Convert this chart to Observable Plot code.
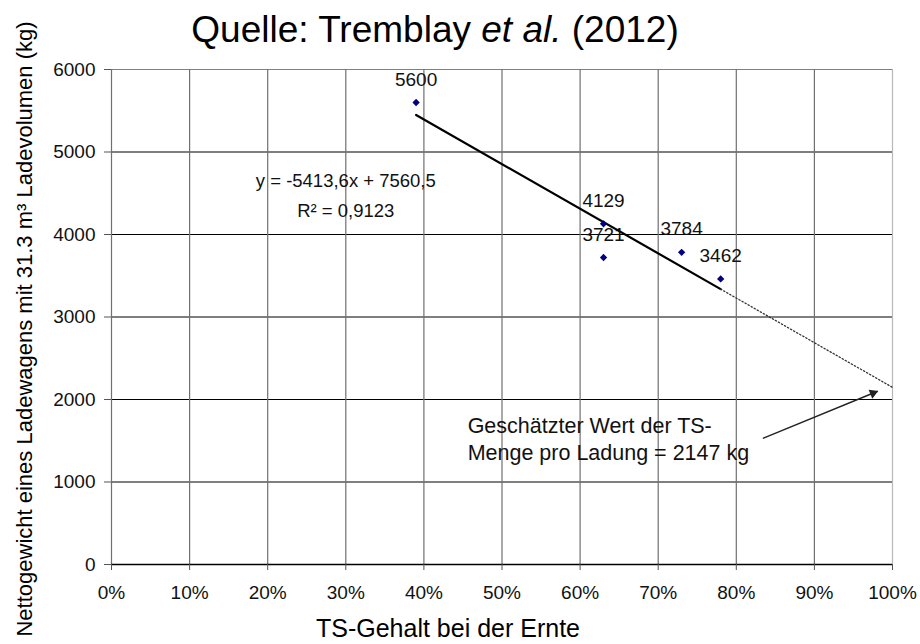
<!DOCTYPE html>
<html>
<head>
<meta charset="utf-8">
<script src="https://cdn.jsdelivr.net/npm/d3@7"></script>
<script src="https://cdn.jsdelivr.net/npm/@observablehq/plot@0.6"></script>
<style>
  html, body { margin: 0; padding: 0; background: #fff; }
  #wrap { position: relative; width: 920px; height: 644px; font-family: "Liberation Sans", Arial, sans-serif; }
  #title { position: absolute; left: 0; width: 870px; top: 11px; text-align: center; font-size: 37px; line-height: 37px; color: #000; }
  #chart { position: absolute; left: 0; top: 0; }
</style>
</head>
<body>
<div id="wrap">
  <div id="chart"></div>
  <div id="title">Quelle: Tremblay <i>et al.</i> (2012)</div>
</div>
<script>
// ---- data ----
const tsContent = [0.39, 0.63, 0.63, 0.73, 0.78];
const netWeight = [5600, 4129, 3721, 3784, 3462];
const xTicks = [0, 0.1, 0.2, 0.3, 0.4, 0.5, 0.6, 0.7, 0.8, 0.9, 1.0];
const yTicks = [0, 1000, 2000, 3000, 4000, 5000, 6000];
const trendSlope = -5413.6;
const trendIntercept = 7560.5;
const trendRange = [0.39, 0.78];
const trendExtension = [0.78, 1.0];
const equationText = "y = -5413,6x + 7560,5\nR² = 0,9123";
const equationAt = [0.30, 4213];
const annotationText = "Geschätzter Wert der TS-\nMenge pro Ladung = 2147 kg";
const annotationAt = [0.456, 1264];
const arrowFrom = [0.834, 1530];
const arrowTo = [0.981, 2100];
const xLabel = "TS-Gehalt bei der Ernte";
const yLabel = "Nettogewicht eines Ladewagens mit 31.3 m³ Ladevolumen (kg)";

// ---- build ----
const points = tsContent.map((x, i) => ({x, y: netWeight[i]}));
const trend = x => trendSlope * x + trendIntercept;

const W = 920, H = 644, ML = 111, MR = 28, MT = 69, MB = 80;
const font = "'Liberation Sans', Arial, sans-serif";

// arrow head orientation in pixel space
const pxX = (W - ML - MR), pxY = (H - MT - MB) / 6000;
const ddx = (arrowTo[0] - arrowFrom[0]) * pxX;
const ddy = -(arrowTo[1] - arrowFrom[1]) * pxY;
const ang = Math.atan2(ddy, ddx) * 180 / Math.PI;
const headRot = ang + 90;
const back = 5;
const headDx = -back * Math.cos(ang * Math.PI / 180);
const headDy = -back * Math.sin(ang * Math.PI / 180);

const chart = Plot.plot({
  width: W, height: H,
  marginLeft: ML, marginRight: MR, marginTop: MT, marginBottom: MB,
  x: {domain: [0, 1]},
  y: {domain: [0, 6000]},
  style: {fontFamily: font, fontSize: "19px", color: "#111", background: "transparent"},
  marks: [
    Plot.ruleY(yTicks.filter(v => v < 6000), {stroke: "#000", strokeWidth: 1.2, strokeOpacity: 1}),
    Plot.ruleY(yTicks.filter(v => v === 6000), {stroke: "#808080", strokeWidth: 1.2, strokeOpacity: 1}),
    Plot.ruleX(xTicks.filter(v => v < 1), {stroke: "#707070", strokeWidth: 1.2, strokeOpacity: 1}),
    Plot.ruleX(xTicks.filter(v => v === 1), {stroke: "#b8b8b8", strokeWidth: 1.2, strokeOpacity: 1}),
    Plot.ruleY([0], {stroke: "#000", strokeWidth: 1.3}),
    Plot.axisX(xTicks, {tickFormat: d3.format(".0%"), tickSize: 6, tickPadding: 15, label: null, stroke: "#555", fontSize: 19}),
    Plot.axisY(yTicks, {tickSize: 7, tickPadding: 9, label: null, stroke: "#555", fontSize: 19, tickFormat: d => String(d)}),
    Plot.line(trendRange, {x: d => d, y: trend, stroke: "#000", strokeWidth: 2.2}),
    Plot.line(trendExtension, {x: d => d, y: trend, stroke: "#333", strokeWidth: 1.3, strokeDasharray: "1.3,2.2"}),
    Plot.dot(points, {x: "x", y: "y", symbol: "diamond2", r: 3.3, fill: "#000080", stroke: "none"}),
    Plot.text(points, {x: "x", y: "y", text: d => String(d.y), dy: -23, fontSize: 19, fill: "#111"}),
    Plot.text([equationAt], {x: d => d[0], y: d => d[1], text: () => equationText, lineAnchor: "bottom", lineHeight: 1.6, fontSize: 18.5, fill: "#111", textAnchor: "middle"}),
    Plot.text([annotationAt], {x: d => d[0], y: d => d[1], text: () => annotationText, lineAnchor: "bottom", lineHeight: 1.25, fontSize: 21.5, fill: "#111", textAnchor: "start"}),
    Plot.link([{a: arrowFrom, b: arrowTo}], {x1: d => d.a[0], y1: d => d.a[1], x2: d => d.b[0], y2: d => d.b[1], stroke: "#222", strokeWidth: 1.4}),
    Plot.dot([arrowTo], {x: d => d[0], y: d => d[1], symbol: "triangle2", r: 4.6, fill: "#222", stroke: "none", rotate: headRot, dx: headDx, dy: headDy}),
    Plot.text([xLabel], {frameAnchor: "bottom", text: d => d, dx: -54, dy: 72, lineAnchor: "bottom", fontSize: 25, fill: "#000"}),
    Plot.text([yLabel], {frameAnchor: "left", text: d => d, dx: -87, dy: 12, rotate: -90, lineAnchor: "middle", textAnchor: "middle", fontSize: 22, fill: "#000"})
  ]
});
document.getElementById("chart").appendChild(chart);
</script>
</body>
</html>
